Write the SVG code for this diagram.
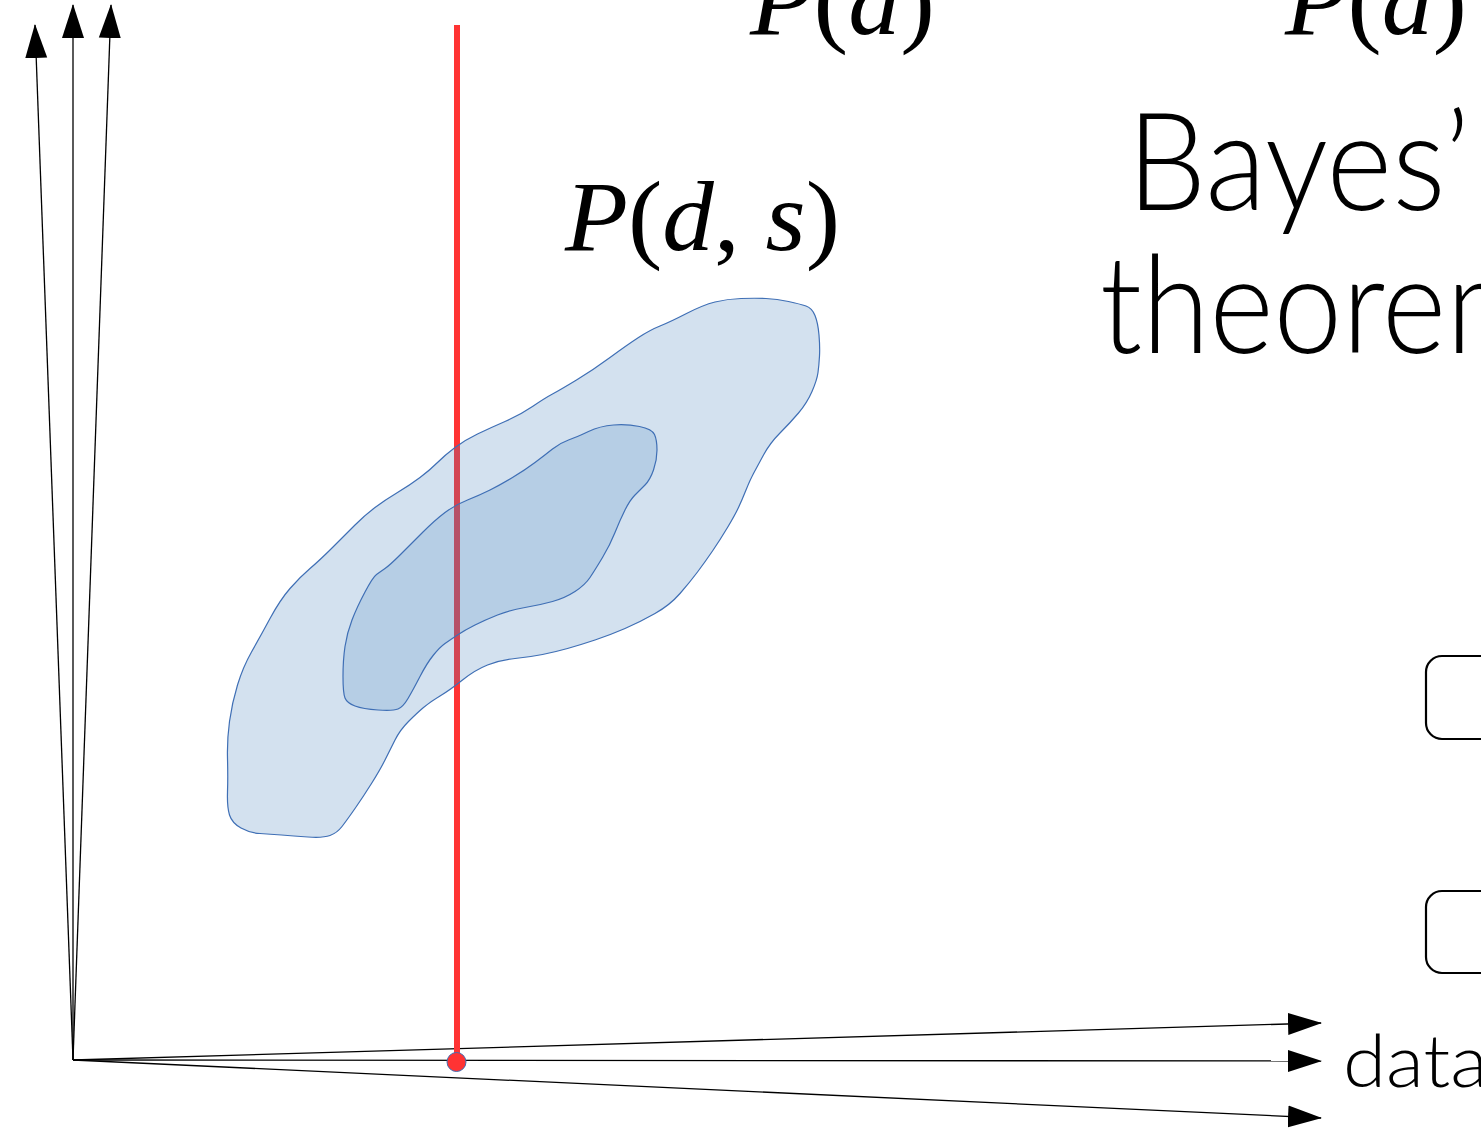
<svg xmlns="http://www.w3.org/2000/svg" width="1481" height="1129" viewBox="0 0 1481 1129">
  <style>
    .axis { stroke: #000; stroke-width: 1.3; fill: none; }
    .math { font-family: "Liberation Serif", "DejaVu Serif", serif; font-size: 100px; fill: #000; }
    .it { font-style: italic; }
    .title { font-family: "Lato", "Open Sans", sans-serif; font-weight: 300; fill: #000; }
    .box { fill: #fff; stroke: #000; stroke-width: 2.2; }
    .blob { fill: #4882bc; stroke: #3f6fb5; stroke-width: 1.2; stroke-linejoin: round; }
  </style>
  <defs>
    <marker id="arrow" markerUnits="userSpaceOnUse" markerWidth="34" markerHeight="23" viewBox="0 0 34 22" refX="33" refY="11" orient="auto">
      <path d="M0,0 L34,11 L0,22 Z" fill="#000"/>
    </marker>
  </defs>
  <rect width="1481" height="1129" fill="#fff"/>

  <g id="labels-top">
    <text class="math" x="750" y="34" textLength="185" lengthAdjust="spacingAndGlyphs"><tspan class="it">P</tspan>(<tspan class="it">d</tspan>)</text>
    <text class="math" x="1285" y="34" textLength="182" lengthAdjust="spacingAndGlyphs"><tspan class="it">P</tspan>(<tspan class="it">d</tspan>)</text>
  </g>

  <g id="title">
    <text class="title" x="1127" y="210" font-size="136" textLength="343" lengthAdjust="spacingAndGlyphs">Bayes’</text>
    <text class="title" x="1100" y="353" font-size="136" textLength="445" lengthAdjust="spacingAndGlyphs">theorem</text>
  </g>

  <g id="connectors">
    <line class="axis" x1="73" y1="1060" x2="35" y2="25" marker-end="url(#arrow)"/>
    <line class="axis" x1="73" y1="1060" x2="73" y2="5" marker-end="url(#arrow)"/>
    <line class="axis" x1="73" y1="1060" x2="111" y2="5" marker-end="url(#arrow)"/>
    <line class="axis" x1="73" y1="1060" x2="1321" y2="1023" marker-end="url(#arrow)"/>
    <line class="axis" x1="73" y1="1060" x2="1321" y2="1061" marker-end="url(#arrow)"/>
    <line class="axis" x1="73" y1="1060" x2="1321" y2="1118" marker-end="url(#arrow)"/>
  </g>

  <g id="data-label">
    <text class="title" x="1343" y="1087" font-size="72" textLength="145" lengthAdjust="spacingAndGlyphs">data</text>
  </g>

  <g id="slice">
    <line x1="457" y1="25" x2="457" y2="1060" stroke="#ff3333" stroke-width="6"/>
  </g>

  <g id="joint">
    <path class="blob" fill-opacity="0.24" d="M715,302 Q727,299 741,298.5 Q755,298 766,298.5 Q777,299 788.5,301.5 Q800,304 806,306 Q812,308 815,315.5 Q818,323 819,335 Q820,347 819.5,356 Q819,365 818,372.5 Q817,380 812,391.5 Q807,403 798.5,413 Q790,423 780,433 Q770,443 763.5,455 Q757,467 753.5,473.5 Q750,480 746,490 Q742,500 738.5,507.5 Q735,515 727.5,527.5 Q720,540 712.5,551 Q705,562 697.5,572 Q690,582 680,593.5 Q670,605 655,613.5 Q640,622 625,628.5 Q610,635 595,640 Q580,645 567.5,648.5 Q555,652 542.5,654.5 Q530,657 515,658.5 Q500,660 487.5,665 Q475,670 462.5,680 Q450,690 440,696 Q430,702 423.5,707.5 Q417,713 408.5,721.5 Q400,730 395,740 Q390,750 385,760 Q380,770 371.5,783.5 Q363,797 355,808.5 Q347,820 342,826.5 Q337,833 330,835.5 Q323,838 308,837 Q293,836 281.5,835 Q270,834 260,833.5 Q250,833 241,828 Q232,823 229.5,815 Q227,807 227.5,792 Q228,777 227.5,758.5 Q227,740 229.5,721.5 Q232,703 237.5,685 Q243,667 251.5,652 Q260,637 270,618.5 Q280,600 290,588.5 Q300,577 310,568.5 Q320,560 332.5,547.5 Q345,535 355,525 Q365,515 375,507.5 Q385,500 397.5,492.5 Q410,485 420,477.5 Q430,470 437.5,462.5 Q445,455 455,447.5 Q465,440 477.5,434 Q490,428 505,421.5 Q520,415 532.5,406.5 Q545,398 552.5,394 Q560,390 576.5,380 Q593,370 610,357.5 Q627,345 638.5,337.5 Q650,330 660,326 Q670,322 686.5,313.5 Q703,305 715,302 Z"/>
    <path class="blob" fill-opacity="0.2" d="M588.5,431.5 Q600,426 613.5,425 Q627,424 639.5,426.5 Q652,429 654.5,434.5 Q657,440 657,450 Q657,460 653.5,470 Q650,480 645,485 Q640,490 635,495 Q630,500 625,510 Q620,520 615,532.5 Q610,545 602.5,557.5 Q595,570 590,577.5 Q585,585 575,591.5 Q565,598 552.5,601.5 Q540,605 525,607.5 Q510,610 497.5,615 Q485,620 475,625 Q465,630 457.5,635 Q450,640 445,643.5 Q440,647 433.5,655 Q427,663 420,676.5 Q413,690 408,698.5 Q403,707 398,709 Q393,711 378,710 Q363,709 355,706 Q347,703 345,698 Q343,693 343,676.5 Q343,660 345,646.5 Q347,633 352,620 Q357,607 365,592 Q373,577 376.5,574.5 Q380,572 385,568.5 Q390,565 400,555 Q410,545 422.5,532.5 Q435,520 445,512.5 Q455,505 467.5,500 Q480,495 490,490 Q500,485 512.5,477.5 Q525,470 535,462.5 Q545,455 552.5,449 Q560,443 568.5,440 Q577,437 588.5,431.5 Z"/>
    <text class="math" x="565" y="250" textLength="275" lengthAdjust="spacingAndGlyphs"><tspan class="it">P</tspan>(<tspan class="it">d</tspan>, <tspan class="it">s</tspan>)</text>
  </g>

  <g id="slice-point">
    <circle cx="456.5" cy="1062" r="9.5" fill="#ff3333" stroke="#3f6fb5" stroke-width="1"/>
  </g>

  <g id="box1">
    <rect class="box" x="1426" y="656" width="120" height="83" rx="16"/>
  </g>
  <g id="box2">
    <rect class="box" x="1426" y="891" width="120" height="82" rx="16"/>
  </g>
</svg>
